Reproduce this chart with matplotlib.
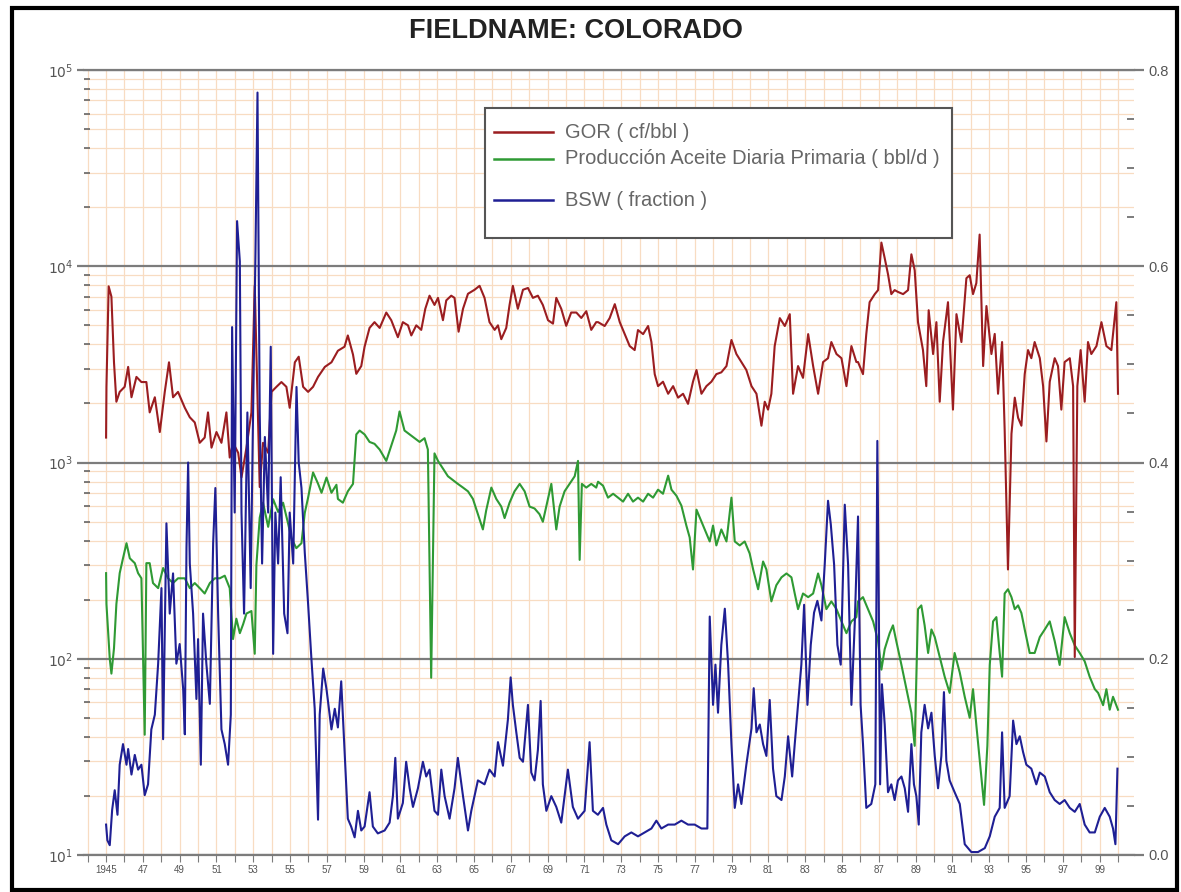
import matplotlib
matplotlib.use("Agg")
import matplotlib.pyplot as plt
from matplotlib.lines import Line2D
from matplotlib.patches import Rectangle
from matplotlib.ticker import FixedLocator, MultipleLocator, NullFormatter

plt.rcParams['font.family'] = ['Liberation Sans', 'DejaVu Sans']

TITLE = "FIELDNAME: COLORADO"
LABELS = ["GOR ( cf/bbl )", "Producción Aceite Diaria Primaria ( bbl/d )", "BSW ( fraction )"]
YEAR_TICKS = list(range(1944, 2001))
LOG_TICKS = [10, 100, 1000, 10000, 100000]
LOG_LABELS = ["$10^1$", "$10^2$", "$10^3$", "$10^4$", "$10^5$"]
BSW_TICKS = [0.0, 0.2, 0.4, 0.6, 0.8]
BSW_LABELS = ["0.0", "0.2", "0.4", "0.6", "0.8"]

# (year, cf/bbl)
GOR = [
    (1945.00, 1340), (1945.02, 2430), (1945.14, 7900), (1945.29, 7000), (1945.43, 3240),
    (1945.56, 2040), (1945.74, 2290), (1946.01, 2430), (1946.20, 3070), (1946.38, 2150),
    (1946.65, 2730), (1946.92, 2570), (1947.19, 2570), (1947.37, 1800), (1947.65, 2150),
    (1947.92, 1430), (1948.19, 2290), (1948.42, 3240), (1948.64, 2150), (1948.91, 2290),
    (1949.28, 1900), (1949.55, 1700), (1949.82, 1600), (1950.09, 1260), (1950.36, 1340),
    (1950.54, 1800), (1950.73, 1190), (1951.00, 1430), (1951.27, 1260), (1951.54, 1800),
    (1951.72, 1060), (1951.90, 1260), (1952.18, 1120), (1952.36, 840), (1952.63, 1190),
    (1952.90, 1800), (1953.08, 8000), (1953.35, 750), (1953.53, 1260), (1953.81, 1120),
    (1953.99, 2290), (1954.26, 2430), (1954.53, 2570), (1954.80, 2430), (1954.98, 1900),
    (1955.26, 3240), (1955.47, 3460), (1955.71, 2430), (1955.98, 2290), (1956.25, 2430),
    (1956.52, 2730), (1956.89, 3070), (1957.25, 3240),
    (1957.60, 3710), (1957.96, 3890), (1958.14, 4440), (1958.42, 3550), (1958.60, 2830),
    (1958.87, 3100), (1959.05, 3890), (1959.32, 4850), (1959.59, 5190), (1959.87, 4850),
    (1960.23, 5810), (1960.50, 5310), (1960.86, 4350), (1961.13, 5190), (1961.41, 5000),
    (1961.59, 4440), (1961.86, 5000), (1962.13, 4740), (1962.35, 6070), (1962.58, 7080),
    (1962.85, 6350), (1963.04, 6900), (1963.31, 5310), (1963.49, 6700), (1963.76, 7080),
    (1963.94, 6900), (1964.16, 4640), (1964.40, 6070), (1964.67, 7240), (1965.03, 7590),
    (1965.30, 7950), (1965.57, 6900), (1965.84, 5190), (1966.12, 4740), (1966.30, 5000),
    (1966.48, 4250), (1966.75, 4850), (1966.93, 6350), (1967.11, 7950), (1967.38, 6070),
    (1967.66, 7590), (1967.93, 7750), (1968.20, 6900), (1968.47, 7080), (1968.74, 6350),
    (1969.02, 5310), (1969.29, 5100), (1969.47, 6900), (1969.74, 6070), (1970.01, 4970),
    (1970.28, 5810), (1970.56, 5810), (1970.83, 5450), (1971.10, 5900), (1971.37, 4740),
    (1971.64, 5190),
    (1971.74, 5190), (1972.10, 4960), (1972.37, 5440), (1972.65, 6410), (1972.92, 5190),
    (1973.19, 4510), (1973.46, 3920), (1973.73, 3740), (1973.91, 4730), (1974.19, 4510),
    (1974.46, 4960), (1974.64, 4110), (1974.82, 2820), (1975.00, 2450), (1975.27, 2580),
    (1975.55, 2240), (1975.82, 2450), (1976.09, 2140), (1976.36, 2240), (1976.63, 1990),
    (1976.90, 2580), (1977.09, 2960), (1977.36, 2240), (1977.63, 2450), (1977.90, 2580),
    (1978.17, 2820), (1978.44, 2880), (1978.72, 3100), (1978.99, 4210), (1979.26, 3570),
    (1979.53, 3250), (1979.80, 2960), (1980.08, 2450), (1980.35, 2240), (1980.62, 1540),
    (1980.80, 2040), (1980.98, 1860), (1981.16, 2240), (1981.34, 3920), (1981.62, 5440),
    (1981.89, 4960), (1982.16, 5700), (1982.34, 2240), (1982.61, 3100), (1982.88, 2700),
    (1983.16, 4510), (1983.43, 3100), (1983.70, 2240), (1983.97, 3250), (1984.24, 3400),
    (1984.42, 4110), (1984.70, 3570), (1984.97, 3400), (1985.24, 2450), (1985.51, 3920),
    (1985.78, 3250),
    (1985.87, 3250), (1986.14, 2820), (1986.32, 4520), (1986.50, 6560), (1986.78, 7210),
    (1986.96, 7560), (1987.14, 13200), (1987.32, 11000), (1987.50, 9100), (1987.68, 7210),
    (1987.86, 7560), (1988.04, 7400), (1988.32, 7210), (1988.59, 7560), (1988.77, 11500),
    (1988.95, 9540), (1989.13, 5190), (1989.40, 3740), (1989.58, 2450), (1989.71, 5970),
    (1989.95, 3570), (1990.13, 5190), (1990.31, 2040), (1990.49, 4110), (1990.76, 6560),
    (1991.03, 1860), (1991.22, 5700), (1991.49, 4110), (1991.76, 8690), (1991.94, 9000),
    (1992.12, 7210), (1992.30, 8200), (1992.48, 14500), (1992.67, 3100), (1992.85, 6270),
    (1993.12, 3570), (1993.30, 4520), (1993.48, 2240), (1993.70, 4110), (1993.84, 1470),
    (1994.02, 285), (1994.21, 1400), (1994.39, 2140), (1994.57, 1690), (1994.75, 1540),
    (1994.93, 2820), (1995.11, 3740), (1995.29, 3400), (1995.47, 4110), (1995.75, 3400),
    (1995.93, 2450), (1996.11, 1280), (1996.29, 2580), (1996.56, 3400), (1996.74, 3100),
    (1996.92, 1860), (1997.10, 3250), (1997.38, 3400), (1997.56, 2450), (1997.65, 102),
    (1997.79, 2450), (1997.97, 3740), (1998.19, 2040), (1998.37, 4110), (1998.55, 3570),
    (1998.83, 3920), (1999.10, 5190), (1999.37, 3920), (1999.64, 3740), (1999.91, 6560),
    (2000.00, 2240),
]

# (year, bbl/d)
OIL = [
    (1945.00, 273), (1945.02, 190), (1945.20, 100), (1945.29, 84), (1945.43, 113),
    (1945.56, 190), (1945.74, 273), (1945.92, 325), (1946.11, 388), (1946.29, 325),
    (1946.56, 307), (1946.74, 273), (1946.92, 257), (1947.10, 41), (1947.19, 307),
    (1947.37, 307), (1947.55, 243), (1947.83, 229), (1948.10, 290), (1948.37, 257),
    (1948.64, 243), (1948.91, 257), (1949.28, 257), (1949.55, 229), (1949.82, 243),
    (1950.09, 229), (1950.36, 215), (1950.64, 243), (1950.91, 257), (1951.18, 257),
    (1951.45, 265), (1951.72, 229), (1951.90, 126), (1952.08, 160), (1952.27, 135),
    (1952.45, 150), (1952.63, 170), (1952.90, 175), (1953.08, 106), (1953.17, 300),
    (1953.35, 523), (1953.53, 624), (1953.81, 470), (1954.08, 650), (1954.35, 560),
    (1954.62, 624), (1954.89, 490), (1955.07, 412), (1955.34, 366), (1955.62, 388),
    (1955.80, 554), (1955.98, 662), (1956.25, 890), (1956.52, 780), (1956.71, 701),
    (1956.98, 838), (1957.25, 701), (1957.52, 770),
    (1957.60, 652), (1957.87, 624), (1958.14, 713), (1958.42, 778), (1958.60, 1390),
    (1958.78, 1455), (1959.05, 1390), (1959.32, 1273), (1959.59, 1245), (1959.87, 1164),
    (1960.23, 1019), (1960.50, 1217), (1960.77, 1455), (1960.95, 1820), (1961.22, 1455),
    (1961.50, 1390), (1961.77, 1330), (1962.04, 1273), (1962.31, 1330), (1962.49, 1164),
    (1962.67, 80), (1962.85, 1113), (1963.04, 1019), (1963.31, 931), (1963.58, 851),
    (1963.85, 814), (1964.12, 778), (1964.40, 745), (1964.67, 713), (1964.94, 652),
    (1965.21, 545), (1965.48, 456), (1965.66, 570), (1965.94, 745), (1966.21, 652),
    (1966.48, 596), (1966.66, 521), (1966.93, 624), (1967.20, 713), (1967.48, 778),
    (1967.75, 713), (1968.02, 596), (1968.29, 583), (1968.56, 545), (1968.74, 499),
    (1969.02, 652), (1969.20, 778), (1969.47, 456), (1969.65, 596), (1969.92, 713),
    (1970.19, 778), (1970.47, 851), (1970.65, 1019), (1970.74, 319), (1970.86, 778),
    (1971.10, 745), (1971.37, 778), (1971.64, 745),
    (1971.74, 798), (1972.01, 762), (1972.28, 662), (1972.56, 693), (1972.83, 662),
    (1973.10, 632), (1973.37, 693), (1973.64, 632), (1973.91, 662), (1974.19, 632),
    (1974.46, 693), (1974.73, 662), (1975.00, 727), (1975.27, 693), (1975.55, 857),
    (1975.73, 727), (1976.00, 677), (1976.27, 603), (1976.54, 477), (1976.72, 415),
    (1976.90, 285), (1977.09, 575), (1977.36, 500), (1977.54, 456), (1977.81, 396),
    (1977.99, 477), (1978.17, 378), (1978.44, 456), (1978.72, 396), (1978.99, 662),
    (1979.17, 396), (1979.44, 378), (1979.71, 396), (1979.98, 344), (1980.17, 285),
    (1980.44, 226), (1980.71, 313), (1980.89, 285), (1981.16, 196), (1981.43, 237),
    (1981.71, 260), (1981.98, 272), (1982.25, 260), (1982.43, 215), (1982.61, 179),
    (1982.88, 215), (1983.16, 206), (1983.43, 215), (1983.70, 272), (1983.88, 237),
    (1984.15, 179), (1984.42, 196), (1984.70, 179), (1984.97, 155), (1985.24, 135),
    (1985.51, 155), (1985.78, 163),
    (1985.87, 196), (1986.14, 206), (1986.41, 179), (1986.69, 155), (1986.96, 123),
    (1987.14, 88), (1987.32, 112), (1987.59, 135), (1987.77, 148), (1987.95, 123),
    (1988.23, 93), (1988.50, 70), (1988.77, 53), (1988.95, 36), (1989.13, 179),
    (1989.31, 187), (1989.49, 148), (1989.68, 107), (1989.86, 141), (1990.04, 129),
    (1990.31, 102), (1990.58, 81), (1990.85, 67), (1991.12, 107), (1991.40, 85),
    (1991.67, 64), (1991.94, 50), (1992.12, 70), (1992.30, 46), (1992.57, 25),
    (1992.72, 18), (1992.90, 36), (1993.03, 93), (1993.21, 155), (1993.39, 163),
    (1993.57, 107), (1993.70, 81), (1993.84, 215), (1994.02, 226), (1994.21, 206),
    (1994.39, 179), (1994.57, 187), (1994.75, 171), (1994.93, 141), (1995.20, 107),
    (1995.47, 107), (1995.75, 129), (1996.02, 141), (1996.29, 155), (1996.56, 123),
    (1996.83, 93), (1997.10, 163), (1997.38, 135), (1997.65, 117), (1997.92, 107),
    (1998.19, 97), (1998.46, 81), (1998.74, 70), (1998.92, 67), (1999.19, 58),
    (1999.37, 70), (1999.55, 55), (1999.73, 64), (2000.00, 55),
]

# (year, fraction)
BSW = [
    (1945.00, 0.031), (1945.07, 0.015), (1945.20, 0.010), (1945.33, 0.046), (1945.47, 0.066),
    (1945.62, 0.041), (1945.74, 0.092), (1945.92, 0.113), (1946.11, 0.092), (1946.20, 0.108),
    (1946.38, 0.082), (1946.56, 0.102), (1946.74, 0.087), (1946.92, 0.092), (1947.10, 0.061),
    (1947.28, 0.072), (1947.46, 0.128), (1947.65, 0.143), (1947.83, 0.195), (1948.01, 0.272),
    (1948.10, 0.118), (1948.28, 0.338), (1948.46, 0.246), (1948.64, 0.287), (1948.82, 0.195),
    (1949.00, 0.215), (1949.19, 0.169), (1949.28, 0.123), (1949.37, 0.313), (1949.46, 0.400),
    (1949.55, 0.297), (1949.73, 0.246), (1949.91, 0.159), (1950.00, 0.220), (1950.15, 0.092),
    (1950.27, 0.246), (1950.45, 0.195), (1950.64, 0.154), (1950.82, 0.318), (1950.94, 0.374),
    (1951.09, 0.246), (1951.27, 0.128), (1951.45, 0.113), (1951.63, 0.092), (1951.78, 0.143),
    (1951.85, 0.538), (1951.99, 0.349), (1952.12, 0.646), (1952.27, 0.605), (1952.36, 0.349),
    (1952.50, 0.246), (1952.68, 0.451), (1952.86, 0.272), (1952.99, 0.451), (1953.12, 0.615),
    (1953.23, 0.777), (1953.35, 0.451), (1953.48, 0.297), (1953.63, 0.426), (1953.81, 0.349),
    (1953.95, 0.518), (1954.08, 0.205), (1954.20, 0.349), (1954.35, 0.297), (1954.49, 0.385),
    (1954.68, 0.246), (1954.86, 0.226), (1954.98, 0.349), (1955.17, 0.297), (1955.35, 0.477),
    (1955.47, 0.400), (1955.62, 0.374), (1955.80, 0.308), (1955.98, 0.256), (1956.16, 0.200),
    (1956.34, 0.149), (1956.52, 0.036), (1956.61, 0.143), (1956.80, 0.190), (1956.98, 0.169),
    (1957.25, 0.128), (1957.43, 0.149),
    (1957.60, 0.130), (1957.78, 0.177), (1957.96, 0.107), (1958.14, 0.037), (1958.32, 0.029),
    (1958.51, 0.018), (1958.69, 0.045), (1958.87, 0.025), (1959.05, 0.029), (1959.32, 0.064),
    (1959.50, 0.029), (1959.77, 0.022), (1960.14, 0.025), (1960.41, 0.033), (1960.59, 0.060),
    (1960.72, 0.099), (1960.86, 0.037), (1961.13, 0.053), (1961.31, 0.095), (1961.50, 0.068),
    (1961.68, 0.049), (1961.95, 0.068), (1962.22, 0.095), (1962.40, 0.080), (1962.58, 0.087),
    (1962.85, 0.045), (1963.04, 0.041), (1963.22, 0.087), (1963.40, 0.060), (1963.67, 0.037),
    (1963.94, 0.068), (1964.12, 0.099), (1964.40, 0.060), (1964.67, 0.025), (1964.85, 0.045),
    (1965.21, 0.076), (1965.57, 0.072), (1965.84, 0.087), (1966.12, 0.080), (1966.30, 0.115),
    (1966.57, 0.091), (1966.84, 0.138), (1966.99, 0.181), (1967.11, 0.153), (1967.29, 0.126),
    (1967.48, 0.099), (1967.66, 0.095), (1967.93, 0.153), (1968.11, 0.084), (1968.29, 0.076),
    (1968.47, 0.107), (1968.62, 0.157), (1968.74, 0.072), (1968.93, 0.045), (1969.20, 0.060),
    (1969.47, 0.049), (1969.74, 0.033), (1970.10, 0.087), (1970.37, 0.049), (1970.65, 0.037),
    (1971.01, 0.045), (1971.28, 0.115), (1971.46, 0.045), (1971.73, 0.041),
    (1972.01, 0.048), (1972.19, 0.031), (1972.46, 0.015), (1972.83, 0.011), (1973.19, 0.019),
    (1973.55, 0.023), (1973.91, 0.019), (1974.28, 0.023), (1974.64, 0.027), (1974.91, 0.035),
    (1975.18, 0.027), (1975.55, 0.031), (1975.91, 0.031), (1976.27, 0.035), (1976.63, 0.031),
    (1976.99, 0.031), (1977.36, 0.027), (1977.68, 0.027), (1977.81, 0.243), (1977.99, 0.153),
    (1978.12, 0.194), (1978.26, 0.145), (1978.44, 0.214), (1978.63, 0.251), (1978.81, 0.194),
    (1978.99, 0.113), (1979.17, 0.048), (1979.35, 0.072), (1979.53, 0.052), (1979.80, 0.092),
    (1980.08, 0.129), (1980.20, 0.170), (1980.35, 0.125), (1980.53, 0.133), (1980.71, 0.113),
    (1980.89, 0.101), (1981.07, 0.158), (1981.25, 0.088), (1981.43, 0.060), (1981.71, 0.056),
    (1981.89, 0.080), (1982.07, 0.121), (1982.29, 0.080), (1982.43, 0.113), (1982.61, 0.153),
    (1982.79, 0.194), (1982.94, 0.255), (1983.12, 0.153), (1983.30, 0.214), (1983.48, 0.247),
    (1983.66, 0.259), (1983.88, 0.239), (1984.06, 0.296), (1984.24, 0.361), (1984.39, 0.337),
    (1984.57, 0.296), (1984.75, 0.214), (1984.93, 0.194), (1985.15, 0.357), (1985.33, 0.296),
    (1985.51, 0.153), (1985.69, 0.235), (1985.87, 0.345),
    (1986.01, 0.153), (1986.14, 0.113), (1986.32, 0.048), (1986.59, 0.052), (1986.81, 0.072),
    (1986.92, 0.422), (1986.99, 0.276), (1987.07, 0.072), (1987.17, 0.174), (1987.32, 0.133),
    (1987.50, 0.064), (1987.68, 0.072), (1987.86, 0.056), (1988.04, 0.076), (1988.23, 0.080),
    (1988.41, 0.068), (1988.59, 0.044), (1988.77, 0.113), (1988.91, 0.072), (1989.04, 0.060),
    (1989.17, 0.031), (1989.31, 0.125), (1989.49, 0.153), (1989.68, 0.129), (1989.86, 0.145),
    (1990.04, 0.101), (1990.22, 0.068), (1990.40, 0.101), (1990.54, 0.166), (1990.67, 0.096),
    (1990.85, 0.076), (1991.12, 0.064), (1991.40, 0.052), (1991.67, 0.011), (1992.03, 0.003),
    (1992.39, 0.003), (1992.76, 0.007), (1993.03, 0.019), (1993.30, 0.039), (1993.57, 0.048),
    (1993.70, 0.125), (1993.84, 0.048), (1994.11, 0.060), (1994.30, 0.137), (1994.48, 0.113),
    (1994.66, 0.121), (1994.84, 0.105), (1995.02, 0.092), (1995.29, 0.088), (1995.56, 0.072),
    (1995.75, 0.084), (1996.02, 0.080), (1996.29, 0.064), (1996.56, 0.056), (1996.83, 0.052),
    (1997.10, 0.056), (1997.38, 0.048), (1997.65, 0.044), (1997.92, 0.052), (1998.19, 0.031),
    (1998.46, 0.023), (1998.74, 0.023), (1999.01, 0.039), (1999.28, 0.048), (1999.55, 0.039),
    (1999.73, 0.027), (1999.86, 0.011), (1999.97, 0.088),
]

RED = "#9b1d20"
GREEN = "#2f9a34"
BLUE = "#1f1f94"
ORANGE = "#f8dcc2"
GRAY = "#7c7c7c"
TEXT = "#555555"

W, H = 1181, 892
fig = plt.figure(figsize=(W / 100, H / 100), dpi=100)
ax = fig.add_axes([84 / W, 1 - 855 / H, (1134 - 84) / W, (855 - 70) / H])

ax.set_yscale("log")
ax.set_ylim(10, 1e5)
ax.set_xlim(1943.8, 2000.87)

# grid: yearly vertical lines, log minor horizontals, gray decades
ax.set_axisbelow(True)
ax.xaxis.set_major_locator(FixedLocator(YEAR_TICKS))
ax.set_xticklabels(["1945" if y == 1945 else (f"{y % 100:02d}" if y % 2 else "")
                    for y in YEAR_TICKS])
ax.yaxis.set_major_locator(FixedLocator(LOG_TICKS))
ax.set_yticklabels(LOG_LABELS)
ax.yaxis.set_minor_locator(FixedLocator([m * d for d in LOG_TICKS[:-1] for m in range(2, 10)]))
ax.yaxis.set_minor_formatter(NullFormatter())
ax.grid(axis="x", which="major", color=ORANGE, lw=0.9)
ax.grid(axis="y", which="minor", color=ORANGE, lw=0.9)
ax.grid(axis="y", which="major", color=GRAY, lw=1.6)

ax.tick_params(axis="x", which="major", direction="out", length=5, width=0.8,
               color=GRAY, labelsize=7, labelcolor=TEXT, pad=2)
ax.tick_params(axis="y", which="major", direction="out", length=5, width=1.6,
               color=GRAY, labelsize=10, labelcolor=TEXT, pad=3)
ax.tick_params(axis="y", which="minor", direction="in", length=4, width=1.2, color="#666666")

for side in ("left", "right"):
    ax.spines[side].set_visible(False)
for side in ("top", "bottom"):
    ax.spines[side].set_color(GRAY)
    ax.spines[side].set_linewidth(1.6)

ax.plot([p[0] for p in OIL], [p[1] for p in OIL], color=GREEN, lw=1.5, zorder=3)
ax.plot([p[0] for p in GOR], [p[1] for p in GOR], color=RED, lw=1.5, zorder=4)

ax2 = ax.twinx()
ax2.set_ylim(0, 0.8)
ax2.set_yticks(BSW_TICKS)
ax2.set_yticklabels(BSW_LABELS)
ax2.yaxis.set_minor_locator(MultipleLocator(0.05))
ax2.tick_params(axis="y", which="major", direction="out", length=7, width=1.6,
                color=GRAY, labelsize=10.5, labelcolor=TEXT, pad=3)
ax2.tick_params(axis="y", which="minor", direction="in", length=5, width=1.2, color="#666666")
for side in ax2.spines:
    ax2.spines[side].set_visible(False)
ax2.plot([p[0] for p in BSW], [p[1] for p in BSW], color=BLUE, lw=1.5)

# legend box drawn by hand to keep the uneven row spacing
fig.patches.append(Rectangle((485 / W, 1 - 238 / H), (952 - 485) / W, (238 - 108) / H,
                             transform=fig.transFigure, facecolor="white",
                             edgecolor="#555555", lw=1.5, zorder=5))
for label, color, ypx in zip(LABELS, [RED, GREEN, BLUE], [132, 159, 200]):
    fig.add_artist(Line2D([494 / W, 553 / W], [1 - ypx / H] * 2, color=color, lw=1.8,
                          transform=fig.transFigure, zorder=6))
    fig.text(565 / W, 1 - ypx / H, label, ha="left", va="center", fontsize=14.5,
             color="#666666", zorder=6)

fig.text(576 / W, 1 - 31 / H, TITLE, ha="center", va="center", fontsize=19.5,
         fontweight="bold", color="#222222")

fig.patches.append(Rectangle((11.5 / W, 1 - 890 / H), (1176.5 - 11.5) / W, (890 - 7.5) / H,
                             transform=fig.transFigure, fill=False, edgecolor="black",
                             lw=3, zorder=10))

fig.savefig("out.png", dpi=100)
